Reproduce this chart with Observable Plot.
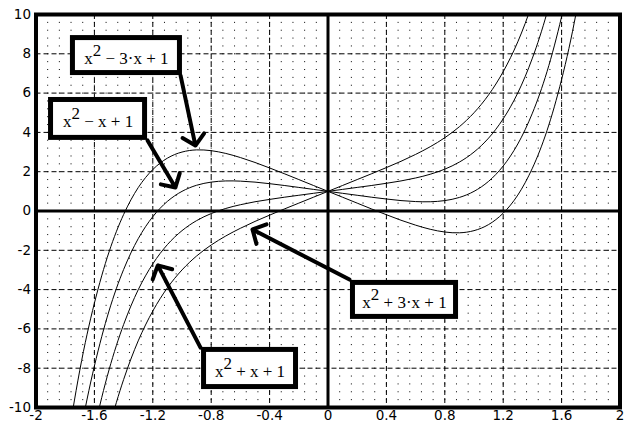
<!DOCTYPE html>
<html><head><meta charset="utf-8">
<script src="https://cdn.jsdelivr.net/npm/d3@7"></script>
<script src="https://cdn.jsdelivr.net/npm/@observablehq/plot@0.6"></script>
<style>html,body{margin:0;padding:0;background:#fff;}</style>
</head><body><div id="chart"></div>
<script>
// sample positions along x
const xs = [-1.8,-1.7,-1.6,-1.5,-1.4,-1.3,-1.2,-1.1,-1.0,-0.9,-0.8,-0.7,-0.6,-0.5,-0.4,-0.3,-0.2,-0.1,0,
            0.1,0.2,0.3,0.4,0.5,0.6,0.7,0.8,0.9,1.0,1.1,1.2,1.3,1.4,1.5,1.6,1.7,1.8];
// curve values
const yM3 = [-12.50,-8.10,-4.69,-2.09,-0.18,1.19,2.11,2.69,3.00,3.11,3.07,2.93,2.72,2.47,2.19,1.90,1.60,1.30,1.00,
             0.70,0.40,0.10,-0.19,-0.47,-0.72,-0.93,-1.07,-1.11,-1.00,-0.69,-0.11,0.81,2.18,4.09,6.69,10.10,14.50];
const yM1 = [-16.10,-11.50,-7.89,-5.09,-2.98,-1.41,-0.29,0.49,1.00,1.31,1.47,1.53,1.52,1.47,1.39,1.30,1.20,1.10,1.00,
             0.90,0.80,0.70,0.61,0.53,0.48,0.47,0.53,0.69,1.00,1.51,2.29,3.41,4.98,7.09,9.89,13.50,18.10];
const yP1 = [-19.70,-14.90,-11.09,-8.09,-5.78,-4.01,-2.69,-1.71,-1.00,-0.49,-0.13,0.13,0.32,0.47,0.59,0.70,0.80,0.90,1.00,
             1.10,1.20,1.30,1.41,1.53,1.68,1.87,2.13,2.49,3.00,3.71,4.69,6.01,7.78,10.09,13.09,16.90,21.70];
const yP3 = [-23.30,-18.30,-14.29,-11.09,-8.58,-6.61,-5.09,-3.91,-3.00,-2.29,-1.73,-1.27,-0.88,-0.53,-0.21,0.10,0.40,0.70,1.00,
             1.30,1.60,1.90,2.21,2.53,2.88,3.27,3.73,4.29,5.00,5.91,7.09,8.61,10.58,13.09,16.29,20.20,25.30];
const seriesNames = ["x^2 - 3x + 1", "x^2 - x + 1", "x^2 + x + 1", "x^2 + 3x + 1"];
const seriesValues = [yM3, yM1, yP1, yP3];

// tick labels
const xTicks = [-2,-1.6,-1.2,-0.8,-0.4,0,0.4,0.8,1.2,1.6,2];
const yTicks = [-10,-8,-6,-4,-2,0,2,4,6,8,10];

// annotation labels (base, superscript, rest)
const labelBase = "x";
const labelSup = "2";
const labelRest = [" \u2212 3\u00b7x + 1", " \u2212 x + 1", " + 3\u00b7x + 1", " + x + 1"];
// annotation boxes (data coordinates)
const boxX1 = [-1.747, -1.897, 0.171, -0.849];
const boxX2 = [-1.014, -1.253, 0.877, -0.219];
const boxY1 = [8.80, 5.65, -3.66, -7.07];
const boxY2 = [7.02, 3.72, -5.39, -8.96];
// arrows (data coordinates)
const arrowX1 = [-1.010, -1.236, 0.147, -0.873];
const arrowY1 = [6.90, 3.59, -3.49, -6.95];
const arrowX2 = [-0.908, -1.045, -0.517, -1.166];
const arrowY2 = [3.33, 1.20, -0.94, -2.77];

const curveData = seriesNames.flatMap((s, k) => xs.map((x, i) => ({s, x, y: seriesValues[k][i]})));
const boxes = boxX1.map((_, i) => ({x1: boxX1[i], x2: boxX2[i], y1: boxY1[i], y2: boxY2[i],
  cx: (boxX1[i] + boxX2[i]) / 2, cy: (boxY1[i] + boxY2[i]) / 2, label: labelBase + labelSup + labelRest[i]}));
const arrows = arrowX1.map((_, i) => ({x1: arrowX1[i], y1: arrowY1[i], x2: arrowX2[i], y2: arrowY2[i]}));

const minorX = d3.range(0, 51).map(i => -2 + i * 0.08);

const svg = Plot.plot({
  width: 631, height: 435,
  marginLeft: 35.5, marginRight: 11.5, marginTop: 14, marginBottom: 28,
  style: {fontFamily: "DejaVu Sans", fontSize: "13.5px", color: "black", background: "white"},
  x: {domain: [-2, 2], ticks: xTicks, tickFormat: d => String(d), tickSize: 0, tickPadding: 3, label: null},
  y: {domain: [-10, 10], ticks: yTicks, tickFormat: d => String(d), tickSize: 0, tickPadding: 5, label: null},
  marks: [
    Plot.ruleX(minorX, {stroke: "black", strokeWidth: 1, strokeDasharray: "1,6.86"}),
    Plot.ruleX(xTicks, {stroke: "black", strokeWidth: 1, strokeDasharray: "5,3"}),
    Plot.ruleY(yTicks, {stroke: "black", strokeWidth: 1, strokeDasharray: "5,3"}),
    Plot.ruleX([0], {stroke: "black", strokeWidth: 3}),
    Plot.ruleY([0], {stroke: "black", strokeWidth: 3}),
    Plot.line(curveData, {x: "x", y: "y", z: "s", stroke: "black", strokeWidth: 1, curve: "natural", clip: true}),
    Plot.arrow(arrows, {x1: "x1", y1: "y1", x2: "x2", y2: "y2", stroke: "black", strokeWidth: 4,
      headLength: 5.6, headAngle: 95}),
    Plot.rect(boxes, {x1: "x1", x2: "x2", y1: "y1", y2: "y2", fill: "white", stroke: "black", strokeWidth: 5}),
    Plot.text(boxes, {x: "cx", y: "cy", text: "label", fill: "black",
      fontFamily: "Liberation Serif", fontSize: 17, textAnchor: "middle", dy: 3}),
    Plot.frame({stroke: "black", strokeWidth: 4})
  ]
});

const NS = "http://www.w3.org/2000/svg";
svg.querySelectorAll("text").forEach(t => {
  const i = boxes.findIndex(b => b.label === t.textContent);
  if (i < 0) {
    // tick labels
    t.style.fontSize = "13.5px";
    t.style.fontFamily = "DejaVu Sans";
    t.style.fill = "black";
    return;
  }
  while (t.firstChild) t.removeChild(t.firstChild);
  t.style.whiteSpace = "pre";
  t.appendChild(document.createTextNode(labelBase));
  const sup = document.createElementNS(NS, "tspan");
  sup.setAttribute("dy", "-8");
  sup.textContent = labelSup;
  t.appendChild(sup);
  const rest = document.createElementNS(NS, "tspan");
  rest.setAttribute("dy", "8");
  rest.textContent = labelRest[i];
  t.appendChild(rest);
});
document.getElementById("chart").appendChild(svg);
</script>
</body></html>
